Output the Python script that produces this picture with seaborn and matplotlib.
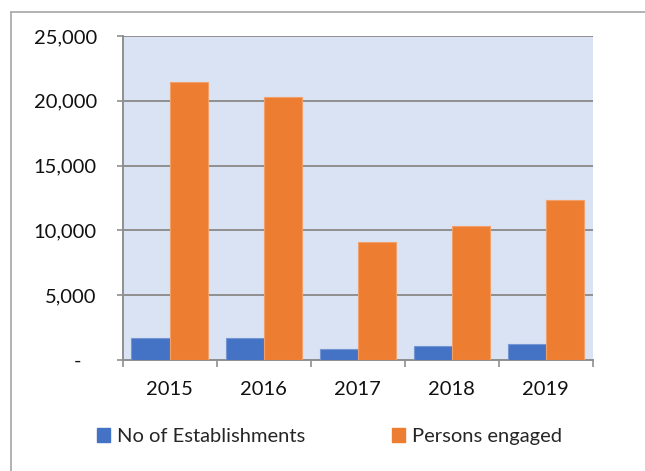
import numpy as np
import pandas as pd
import matplotlib
matplotlib.use("Agg")
import matplotlib.pyplot as plt
import matplotlib.ticker as mticker
from matplotlib.lines import Line2D
import seaborn as sns

# Data
years = ["2015", "2016", "2017", "2018", "2019"]
establishments = [1700, 1700, 820, 1080, 1210]
persons_engaged = [21430, 20280, 9100, 10350, 12380]
series_names = ["No of Establishments", "Persons engaged"]
colors = ["#4472c4", "#ed7d31"]
edge_colors = ["#7595d3", "#f2a06a"]
y_ticks = [0, 5000, 10000, 15000, 20000, 25000]

df = pd.DataFrame({
    "year": years * 2,
    "value": establishments + persons_engaged,
    "series": [series_names[0]] * len(years) + [series_names[1]] * len(years),
})

sns.set_style("white")
plt.rcParams["font.family"] = ["Lato", "DejaVu Sans"]

fig = plt.figure(figsize=(6.45, 4.71), dpi=100)
ax = fig.add_axes([0.190, 0.2357, 0.729, 0.688])
ax.set_facecolor("#dae3f3")

sns.barplot(data=df, x="year", y="value", hue="series", palette=colors,
            width=0.81, gap=0, saturation=1, ax=ax, legend=False, zorder=3)

# light outline on bars
for bars, ec in zip(ax.containers, edge_colors):
    for b in bars:
        b.set_edgecolor(ec)
        b.set_linewidth(0.8)

ax.set_ylim(0, 25000)
ax.set_xlim(-0.5, len(years) - 0.5)
ax.set_yticks(y_ticks)
ax.yaxis.set_major_formatter(mticker.FuncFormatter(
    lambda v, p: "-   " if v == 0 else f"{int(v):,}"))
ax.grid(axis="y", color="#8f8f8f", linewidth=1.4, zorder=1)
ax.set_axisbelow(True)
ax.set_xlabel("")
ax.set_ylabel("")

for s in ["top", "right"]:
    ax.spines[s].set_visible(False)
for s in ["left", "bottom"]:
    ax.spines[s].set_color("#8f8f8f")
    ax.spines[s].set_linewidth(1.4)

fs = 14.5
# ticks: y outward, x marks at category boundaries
ax.tick_params(axis="y", length=4.5, width=1.2, color="#8f8f8f", pad=14,
               labelsize=fs, labelcolor="#111111", left=True)
ax.tick_params(axis="x", which="major", length=0, pad=15,
               labelsize=fs, labelcolor="#111111")
ax.set_xticks(np.arange(-0.5, len(years), 1.0), minor=True)
ax.tick_params(axis="x", which="minor", length=5, width=1.2, color="#8f8f8f",
               bottom=True)

handles = [plt.Rectangle((0, 0), 1, 1, color=c) for c in colors]
fig.legend(handles, series_names, loc="center", bbox_to_anchor=(0.511, 0.073),
           ncol=2, frameon=False, fontsize=fs, handlelength=0.65,
           handleheight=0.65, handletextpad=0.35, columnspacing=4.3)

# outer chart border (top and left visible)
fig.add_artist(Line2D([11 / 645, 1], [1 - 12 / 471, 1 - 12 / 471],
                      color="#a6a6a6", linewidth=1.2))
fig.add_artist(Line2D([11 / 645, 11 / 645], [0, 1 - 12 / 471],
                      color="#a6a6a6", linewidth=1.2))

fig.savefig("out.png", dpi=100)
